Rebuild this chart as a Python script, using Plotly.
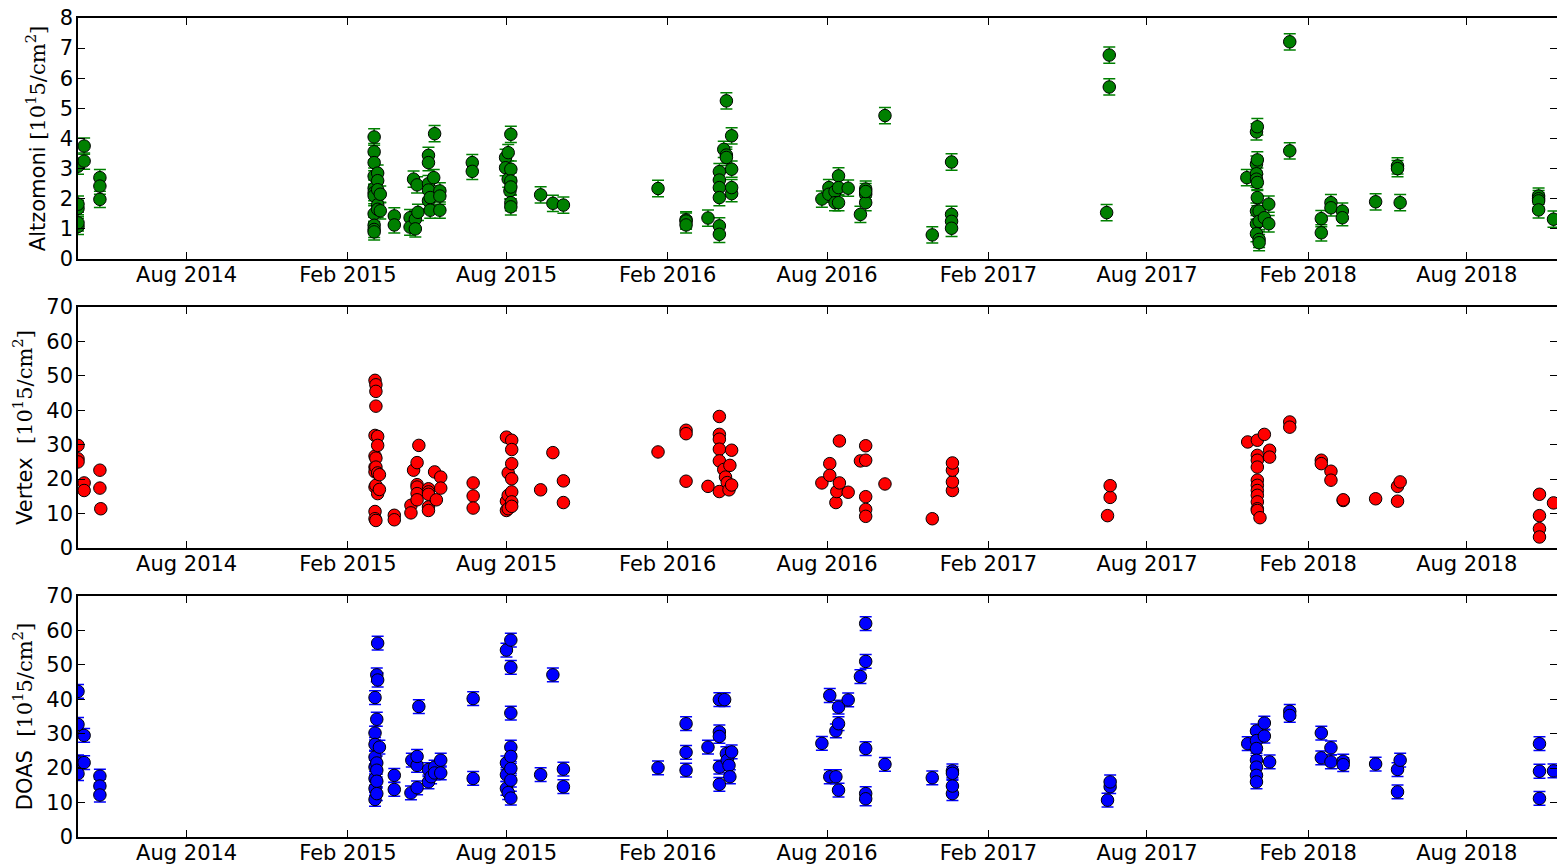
import plotly.graph_objects as go
from plotly.subplots import make_subplots

# ---------------- data ----------------
alt_dates = ["2014-03-30", "2014-04-06", "2014-04-24",
             "2015-03-03", "2015-03-07", "2015-03-10", "2015-03-26",
             "2015-04-13", "2015-04-17", "2015-04-19", "2015-04-21", "2015-04-22",
             "2015-05-04", "2015-05-06", "2015-05-10", "2015-05-11", "2015-05-17",
             "2015-06-23", "2015-07-31", "2015-08-03", "2015-08-05", "2015-08-06",
             "2015-09-09", "2015-09-23", "2015-10-05",
             "2016-01-21", "2016-02-22", "2016-03-18", "2016-03-31", "2016-04-05",
             "2016-04-08", "2016-04-14", "2016-07-26", "2016-08-03", "2016-08-10",
             "2016-08-14", "2016-08-25", "2016-09-08", "2016-09-14", "2016-10-06",
             "2016-11-29", "2016-12-21",
             "2017-06-16", "2017-06-19", "2017-11-23", "2017-12-04", "2017-12-05",
             "2017-12-07", "2017-12-13", "2017-12-18",
             "2018-01-11", "2018-02-16", "2018-02-27", "2018-03-12", "2018-04-19",
             "2018-05-14", "2018-05-17", "2018-10-22", "2018-11-08"]
alt_values = [[1.08, 1.2, 1.68, 1.82, 3.08], [3.75, 3.25], [2.7, 2.42, 1.98],
              [4.05, 3.56, 3.2, 2.75, 2.35, 2.2, 2.1, 1.5, 1.12, 0.98, 0.9],
              [2.85, 2.6, 2.3, 1.8, 1.65], [2.15, 1.6], [1.43, 1.13],
              [1.37, 1.06], [2.65], [1.32, 1.0], [2.46], [1.55],
              [3.44, 3.2, 2.5, 2.29, 1.93], [2.04, 1.62], [2.7], [4.16], [2.26, 2.09, 1.62],
              [3.2, 2.91], [3.37, 3.03], [3.53, 2.65], [2.26], [4.14, 2.98, 2.59, 2.39, 1.87, 1.73],
              [2.13], [1.85], [1.79],
              [2.34], [1.3, 1.26, 1.13], [1.36], [2.9, 2.62, 2.37, 2.04, 1.1, 0.82], [3.64],
              [5.25, 3.45, 3.37], [2.98, 2.17, 2.37, 4.09], [1.99], [2.37, 2.15], [2.24, 1.87],
              [2.76, 2.37, 1.87], [2.35], [1.48], [2.32, 2.15, 1.87, 2.24], [4.76],
              [0.8], [3.22, 1.48, 1.25, 1.02],
              [1.54], [6.77, 5.71], [2.7], [4.22, 3.15, 2.83, 2.65, 1.59, 1.17, 0.84],
              [4.39, 3.29, 2.54, 2.04], [1.59, 1.25, 0.65, 0.54], [1.37], [1.82, 1.17],
              [7.21, 3.59], [1.34, 0.87], [1.87, 1.7], [1.59, 1.37], [1.9],
              [3.09, 3.0], [1.87], [2.09, 2.0, 1.93, 1.63], [1.32]]
alt_error = 0.27

vtx_dates = ["2014-03-30", "2014-04-06", "2014-04-24", "2014-04-25",
             "2015-03-04", "2015-03-05", "2015-03-07", "2015-03-09", "2015-03-26",
             "2015-04-14", "2015-04-17", "2015-04-21", "2015-04-23", "2015-05-04",
             "2015-05-11", "2015-05-13", "2015-05-18", "2015-06-24", "2015-08-01",
             "2015-08-03", "2015-08-07", "2015-09-09", "2015-09-23", "2015-10-05",
             "2016-01-21", "2016-02-22", "2016-03-18", "2016-03-31", "2016-04-05",
             "2016-04-07", "2016-04-09", "2016-04-11", "2016-04-12", "2016-04-14",
             "2016-07-26", "2016-08-04", "2016-08-11", "2016-08-12", "2016-08-15",
             "2016-08-25", "2016-09-08", "2016-09-14", "2016-10-06", "2016-11-29",
             "2016-12-22", "2017-06-17", "2017-06-20", "2017-11-24", "2017-12-05",
             "2017-12-08", "2017-12-13", "2017-12-19", "2018-01-11", "2018-02-16",
             "2018-02-27", "2018-03-13", "2018-04-19", "2018-05-14", "2018-05-17",
             "2018-10-23", "2018-11-08"]
vtx_values = [[29.8, 25.9, 25.0], [18.9, 16.7], [22.6, 17.4], [11.4],
              [48.7, 32.7, 26.7, 23.5, 22.1, 17.7, 10.6, 8.5],
              [47.4, 45.5, 41.2, 26.1, 23.5, 18.2, 8.0],
              [32.4, 29.8, 21.8, 15.8], [21.3, 17.0], [9.5, 8.2],
              [12.4, 10.2], [22.6], [24.8, 18.4, 17.7, 15.8, 14.0], [29.8],
              [17.2, 16.3, 15.6, 11.9, 10.9], [22.1], [14.0], [20.6, 17.4],
              [18.9, 15.1, 11.6], [32.2, 13.6, 10.9], [21.8, 15.3, 11.4],
              [31.3, 28.6, 24.5, 20.1, 16.3, 13.4, 12.1], [16.9], [27.7], [19.5, 13.2],
              [27.9], [34.2, 33.2, 19.4], [17.9], [38.2, 33.0, 31.6, 28.7, 25.3, 16.4],
              [22.8], [20.6], [19.0], [16.9], [24.0], [28.4, 18.3],
              [18.9], [24.5, 21.1], [13.2], [16.4], [31.1, 18.9], [16.2], [25.3],
              [25.5, 29.7, 14.9, 11.2, 9.2], [18.6], [8.5], [16.7, 19.2, 22.6, 24.7],
              [9.4], [14.7, 18.1], [30.8],
              [31.3, 26.9, 25.5, 23.5, 19.7, 18.2, 16.7, 15.3, 13.4, 11.4, 10.9],
              [8.8], [33.0], [28.4, 26.4], [36.6, 35.1], [25.5, 24.5], [22.3, 19.7],
              [13.8, 14.0], [14.3], [17.9, 13.6], [19.2], [15.6, 9.4, 5.6, 3.2], [13.1]]

doas_dates = ["2014-03-30", "2014-04-06", "2014-04-24",
              "2015-03-04", "2015-03-06", "2015-03-07", "2015-03-09", "2015-03-26",
              "2015-04-14", "2015-04-15", "2015-04-21", "2015-04-23", "2015-05-04",
              "2015-05-07", "2015-05-11", "2015-05-18", "2015-06-24", "2015-08-01",
              "2015-08-03", "2015-08-06", "2015-09-09", "2015-09-23", "2015-10-05",
              "2016-01-21", "2016-02-22", "2016-03-18", "2016-03-31", "2016-04-06",
              "2016-04-08", "2016-04-09", "2016-04-11", "2016-04-12", "2016-04-14",
              "2016-07-26", "2016-08-04", "2016-08-11", "2016-08-14", "2016-08-25",
              "2016-09-08", "2016-09-14", "2016-10-06", "2016-11-29", "2016-12-22",
              "2017-06-17", "2017-06-20", "2017-11-24", "2017-12-04", "2017-12-13",
              "2017-12-19", "2018-01-11", "2018-02-16", "2018-02-27", "2018-03-13",
              "2018-04-19", "2018-05-14", "2018-05-17", "2018-10-23", "2018-11-08"]
doas_values = [[42.3, 32.7, 21.8, 18.4], [29.5, 21.6], [17.7, 14.8, 12.2],
               [40.5, 30.2, 26.9, 23.2, 20.3, 17.0, 14.1, 10.9],
               [47.1, 34.2, 21.5, 19.4, 16.2, 12.6], [56.3, 45.6], [26.1], [17.9, 13.8],
               [12.8], [22.3], [20.8, 23.4, 14.3], [37.9], [19.6, 16.0],
               [17.5], [20.3, 18.6], [22.3, 18.6], [40.2, 17.0], [54.3, 21.5, 18.1, 14.1],
               [12.9], [57.2, 49.3, 36.0, 26.1, 23.4, 19.9, 16.5, 11.3], [18.1], [47.1],
               [19.7, 14.6],
               [20.1], [32.9, 24.6, 19.4], [26.1], [39.9, 30.5, 29.2, 20.3, 15.3], [39.9],
               [24.2], [22.3], [20.8], [17.5], [24.7],
               [27.2], [41.1, 17.5], [30.8, 17.5], [32.9, 37.7, 13.6], [39.8], [46.6],
               [51.0, 62.0, 25.7, 12.6, 11.1], [21.1], [17.2], [12.6, 14.8, 19.2, 18.5],
               [10.7], [14.6, 16.0], [27.1], [30.8, 28.0, 25.7, 22.3, 20.3, 17.9, 16.0],
               [33.1, 29.3], [21.8], [36.5, 35.3], [30.2, 23.0], [25.9, 21.8], [22.0, 21.0],
               [21.2], [19.6, 13.1], [22.3], [27.1, 19.1, 11.2], [19.2]]
doas_error = 2.0

x_range = ["2014-03-30", "2018-11-12"]
x_tickvals = ["2014-08-01", "2015-02-01", "2015-08-01", "2016-02-01", "2016-08-01",
              "2017-02-01", "2017-08-01", "2018-02-01", "2018-08-01"]
y_labels = ["Altzomoni", "Vertex ", "DOAS "]


def flatten(dates, values):
    xs, ys = [], []
    for d, vals in zip(dates, values):
        for v in vals:
            xs.append(d)
            ys.append(v)
    return xs, ys


# ---------------- figure ----------------
fig = make_subplots(rows=3, cols=1, shared_xaxes=False, vertical_spacing=0.06)

series = [
    (alt_dates, alt_values, "#008000", alt_error),
    (vtx_dates, vtx_values, "#ff0000", None),
    (doas_dates, doas_values, "#0000ff", doas_error),
]
for i, (d, v, col, err) in enumerate(series):
    xs, ys = flatten(d, v)
    tr = go.Scatter(
        x=xs, y=ys, mode="markers",
        marker=dict(size=12.5, color=col, line=dict(color="black", width=1)),
        showlegend=False, cliponaxis=True,
    )
    if err is not None:
        tr.error_y = dict(type="constant", value=err, color=col, thickness=1.5, width=6)
    fig.add_trace(tr, row=i + 1, col=1)

H = 866
top, bottom = 18, 29
ph = H - top - bottom
panels = [(18, 259), (307, 548), (596, 837)]
yranges = [[0, 8], [0, 70], [0, 70]]
ydticks = [1, 10, 10]
FS = 21

unit = '<span style="font-family:DejaVu Serif">[10<sup>1</sup>5/cm<sup>2</sup>]</span>'
for i, ((yt, yb), yr, dt) in enumerate(zip(panels, yranges, ydticks)):
    dom = [(H - bottom - yb) / ph, (H - bottom - yt) / ph]
    axn = "" if i == 0 else str(i + 1)
    fig.layout["yaxis" + axn].update(
        domain=dom, range=yr, dtick=dt, tick0=0,
        showline=True, linecolor="black", linewidth=1.5, mirror="ticks",
        ticks="inside", ticklen=7, tickwidth=1, tickcolor="black",
        showgrid=False, zeroline=False,
        tickfont=dict(family="DejaVu Sans", size=FS, color="black"),
        ticklabelstandoff=-1,
        title=dict(text=y_labels[i] + " " + unit,
                   font=dict(family="DejaVu Sans", size=FS, color="black"),
                   standoff=8),
    )
    fig.layout["xaxis" + axn].update(
        type="date", range=x_range, tickvals=x_tickvals, tickformat="%b %Y",
        showline=True, linecolor="black", linewidth=1.5, mirror="ticks",
        ticks="inside", ticklen=7, tickwidth=1, tickcolor="black",
        showgrid=False, zeroline=False,
        tickfont=dict(family="DejaVu Sans", size=FS, color="black"),
        ticklabelstandoff=-4,
    )

fig.update_layout(
    width=1557, height=866,
    margin=dict(l=78, r=0, t=top, b=bottom, autoexpand=False),
    paper_bgcolor="white", plot_bgcolor="white",
    font=dict(family="DejaVu Sans", size=FS, color="black"),
)

fig.write_html("out.html")
